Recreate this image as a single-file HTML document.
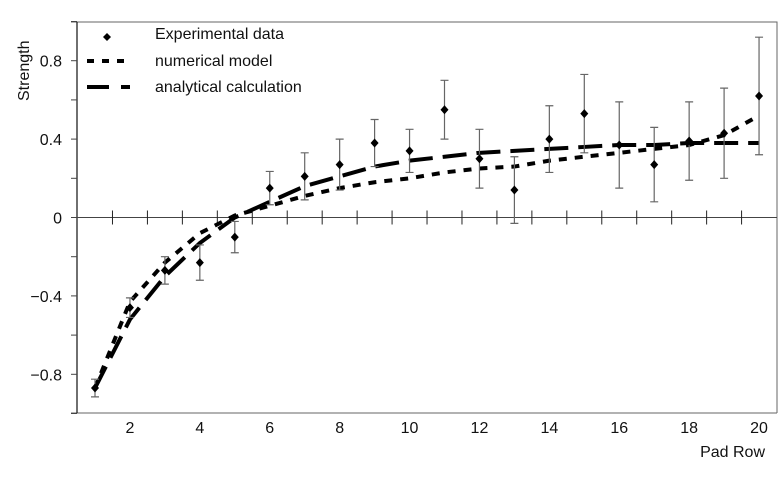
<!DOCTYPE html>
<html><head><meta charset="utf-8"><style>
body{margin:0;background:#fff}
svg text{font-family:"Liberation Sans",sans-serif;fill:#111}
</style></head><body>
<svg id="c" width="784" height="483">
<g id="g"></g>
</svg>
<script>
const rows=[1,2,3,4,5,6,7,8,9,10,11,12,13,14,15,16,17,18,19,20];
const expVals=[-0.87,-0.46,-0.27,-0.23,-0.10,0.15,0.21,0.27,0.38,0.34,0.55,0.30,0.14,0.40,0.53,0.37,0.27,0.39,0.43,0.62];
const expErr=[0.045,0.05,0.07,0.09,0.08,0.085,0.12,0.13,0.12,0.11,0.15,0.15,0.17,0.17,0.20,0.22,0.19,0.20,0.23,0.30];
const numVals=[-0.87,-0.43,-0.23,-0.08,0.01,0.06,0.11,0.15,0.18,0.20,0.23,0.25,0.26,0.29,0.31,0.33,0.35,0.37,0.42,0.52];
const anaVals=[-0.87,-0.52,-0.30,-0.13,0.0,0.08,0.16,0.21,0.26,0.29,0.31,0.33,0.34,0.35,0.36,0.37,0.37,0.38,0.38,0.38];
const yTicks=[0.8,0.4,0,-0.4,-0.8];
const xTicks=[2,4,6,8,10,12,14,16,18,20];
const X=v=>95+(v-1)*34.95;
const Y=v=>217.5-v*196;
const g=document.getElementById('g');
const NS='http://www.w3.org/2000/svg';
function mk(t,a,p){const e=document.createElementNS(NS,t);for(const k in a)e.setAttribute(k,a[k]);(p||g).appendChild(e);return e;}
let e=mk('path',{d:'M71 22H777V413M71 413H777',fill:'none',stroke:'#666','stroke-width':1});


e=mk('line',{x1:77,y1:22,x2:77,y2:413,stroke:'#222','stroke-width':1.3});


e=mk('line',{x1:77,y1:Y(0),x2:777,y2:Y(0),stroke:'#444','stroke-width':1});


for(let v=-1;v<=1.001;v+=0.2){e=mk('line',{x1:71,x2:77,y1:Y(v),y2:Y(v),stroke:'#444'});

}
for(let r=1.5;r<20;r++){e=mk('line',{x1:X(r),x2:X(r),y1:Y(0)-7,y2:Y(0)+7,stroke:'#222'});

}
yTicks.forEach(v=>{e=mk('text',{x:62,y:Y(v)+6,'text-anchor':'end','font-size':16});e.textContent=(v<0?'\u2212':'')+Math.abs(v);

});
xTicks.forEach(v=>{e=mk('text',{x:X(v),y:433,'text-anchor':'middle','font-size':16});e.textContent=v;

});
e=mk('text',{x:765,y:457,'text-anchor':'end','font-size':16});e.textContent='Pad Row';


e=mk('text',{x:0,y:0,'font-size':16,transform:'translate(29,101) rotate(-90)'});e.textContent='Strength';


const pts=a=>rows.map((r,i)=>X(r)+','+Y(a[i])).join(' ');
e=mk('polyline',{points:pts(numVals),fill:'none',stroke:'#000','stroke-width':4,'stroke-dasharray':'8 8'});


e=mk('polyline',{points:pts(anaVals),fill:'none',stroke:'#000','stroke-width':4,'stroke-dasharray':'24 10'});


rows.forEach((r,i)=>{const x=X(r),y1=Y(expVals[i]+expErr[i]),y2=Y(expVals[i]-expErr[i]);
e=mk('path',{d:`M${x} ${y1}V${y2}M${x-4} ${y1}H${x+4}M${x-4} ${y2}H${x+4}`,stroke:'#666','stroke-width':1.2,fill:'none'});


const y=Y(expVals[i]);
e=mk('path',{d:`M${x} ${y-4.5}L${x+4} ${y}L${x} ${y+4.5}L${x-4} ${y}Z`,fill:'#000'});

});
e=mk('path',{d:'M107 33L111 37L107 41L103 37Z',fill:'#000'});


e=mk('line',{x1:87,x2:130,y1:61,y2:61,stroke:'#000','stroke-width':4,'stroke-dasharray':'7 8'});


e=mk('line',{x1:87,x2:130,y1:87,y2:87,stroke:'#000','stroke-width':4,'stroke-dasharray':'22 12'});


[['Experimental data',39],['numerical model',66],['analytical calculation',92]].forEach(([t,y])=>{e=mk('text',{x:155,y:y,'font-size':16});e.textContent=t;

});
</script>
</body></html>
